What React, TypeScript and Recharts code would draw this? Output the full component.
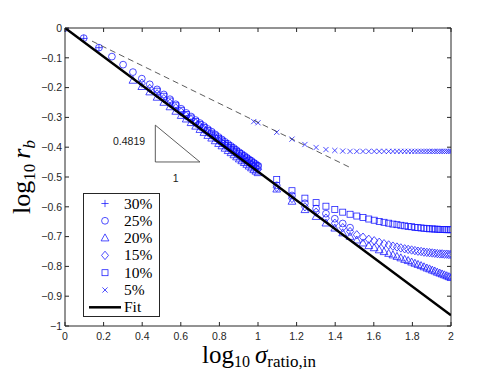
import React from 'react';
import {
  ComposedChart,
  Scatter,
  XAxis,
  YAxis,
  ReferenceArea,
  ReferenceDot,
  Legend,
  Label,
} from 'recharts';

// log10(sigma_ratio,in) sample positions: 1..10 step 0.25, then 12.5..100 step 2.5
const xLow = [
  0, 0.097, 0.176, 0.243, 0.301, 0.352, 0.398, 0.439, 0.477, 0.512, 0.544, 0.574, 0.602,
  0.628, 0.653, 0.677, 0.699, 0.72, 0.74, 0.76, 0.778, 0.796, 0.813, 0.829, 0.845, 0.86,
  0.875, 0.889, 0.903, 0.916, 0.929, 0.942, 0.954, 0.966, 0.978, 0.989, 1.0,
];
const xHigh = [
  1.097, 1.176, 1.243, 1.301, 1.352, 1.398, 1.439, 1.477, 1.512, 1.544, 1.574, 1.602,
  1.628, 1.653, 1.677, 1.699, 1.72, 1.74, 1.76, 1.778, 1.796, 1.813, 1.829, 1.845, 1.86,
  1.875, 1.889, 1.903, 1.916, 1.929, 1.942, 1.954, 1.966, 1.978, 1.989, 2.0,
];
const xAll = [...xLow, ...xHigh];

// log10 r_b per porosity; each list begins at index startXX of xAll
const start30 = 0;
const pct30 = [0, -0.035, -0.066];

const start25 = 0;
const pct25 = [
  0, -0.034, -0.066, -0.096, -0.123, -0.148, -0.17, -0.189, -0.206, -0.223, -0.239, -0.256,
  -0.271, -0.285, -0.297, -0.309, -0.319, -0.329, -0.339, -0.348, -0.357, -0.366, -0.374,
  -0.382, -0.389, -0.396, -0.403, -0.41, -0.417, -0.423, -0.429, -0.435, -0.441, -0.446,
  -0.452, -0.457, -0.462,
  -0.528, -0.562, -0.588, -0.606, -0.623, -0.64, -0.656, -0.67,
];

const start20 = 5;
const pct20 = [
  -0.176, -0.197, -0.215, -0.233, -0.25, -0.265, -0.28, -0.294, -0.306, -0.318, -0.33, -0.341,
  -0.351, -0.361, -0.37, -0.379, -0.388, -0.396, -0.404, -0.412, -0.419, -0.426, -0.433,
  -0.44, -0.446, -0.452, -0.458, -0.464, -0.47, -0.476, -0.481, -0.486,
  -0.541, -0.582, -0.61, -0.633, -0.655, -0.672, -0.688, -0.7, -0.712, -0.722, -0.731, -0.738,
  -0.745, -0.751, -0.757, -0.762, -0.767, -0.772, -0.777, -0.781, -0.786, -0.79, -0.794,
  -0.798, -0.802, -0.806, -0.809, -0.813, -0.816, -0.82, -0.823, -0.826, -0.829, -0.832,
  -0.835, -0.838,
];

const start15 = 6;
const pct15 = [
  -0.185, -0.203, -0.221, -0.237, -0.252, -0.268, -0.282, -0.295, -0.307, -0.319, -0.33,
  -0.34, -0.35, -0.359, -0.368, -0.377, -0.385, -0.393, -0.401, -0.408, -0.415, -0.422,
  -0.429, -0.435, -0.441, -0.447, -0.453, -0.458, -0.464, -0.469, -0.474,
  -0.535, -0.572, -0.6, -0.618, -0.638, -0.655, -0.67, -0.683, -0.694, -0.702, -0.709, -0.714,
  -0.719, -0.724, -0.728, -0.732, -0.735, -0.738, -0.741, -0.743, -0.745, -0.747, -0.749,
  -0.75, -0.752, -0.753, -0.754, -0.755, -0.756, -0.757, -0.758, -0.758, -0.759, -0.759,
  -0.76, -0.76,
];

const start10 = 8;
const pct10 = [
  -0.212, -0.229, -0.245, -0.261, -0.276, -0.29, -0.302, -0.314, -0.324, -0.334, -0.344,
  -0.353, -0.362, -0.371, -0.379, -0.387, -0.394, -0.401, -0.408, -0.415, -0.421, -0.427,
  -0.433, -0.439, -0.445, -0.45, -0.456, -0.461, -0.466,
  -0.508, -0.546, -0.571, -0.586, -0.598, -0.609, -0.618, -0.625, -0.631, -0.636, -0.641,
  -0.645, -0.649, -0.652, -0.655, -0.658, -0.66, -0.662, -0.664, -0.666, -0.667, -0.669,
  -0.67, -0.671, -0.672, -0.673, -0.674, -0.674, -0.675, -0.675, -0.676, -0.676, -0.676,
  -0.677, -0.677, -0.677,
];

const start5 = 34;
const pct5 = [
  -0.314, null, -0.318,
  -0.35, -0.373, -0.391, -0.401, -0.408, -0.411, -0.413, -0.414, -0.414, -0.414, -0.414,
  -0.414, -0.414, -0.414, -0.414, -0.414, -0.414, -0.414, -0.414, -0.414, -0.414, -0.414,
  -0.414, -0.414, -0.414, -0.414, -0.414, -0.414, -0.414, -0.414, -0.414, -0.414, -0.414,
  -0.414, -0.414, -0.414,
];

// fitted slope line, reference dashed line and slope triangle
const fitX = [0, 2];
const fitY = [0, -0.9638];
const dashX = [0.14, 1.48];
const dashY = [-0.044, -0.469];
const triX = [0.468, 0.468, 0.699, 0.468];
const triY = [-0.326, -0.4496, -0.4496, -0.326];
const slopeText = '0.4819';
const runText = '1';

const xTicks = [0, 0.2, 0.4, 0.6, 0.8, 1, 1.2, 1.4, 1.6, 1.8, 2];
const yTicks = [-1, -0.9, -0.8, -0.7, -0.6, -0.5, -0.4, -0.3, -0.2, -0.1, 0];
const legendLabels = ['30%', '25%', '20%', '15%', '10%', '5%', 'Fit'];

const series = (start: number, ys: (number | null)[]) =>
  ys
    .map((y, i) => ({ x: xAll[start + i], y }))
    .filter((p) => p.y !== null);
const pairs = (xs: number[], ys: number[]) => xs.map((x, i) => ({ x, y: ys[i] }));

const BLUE = '#1414ff';
const AX = '#262626';
const SERIF = "'Liberation Serif', 'DejaVu Serif', serif";
const SANS = "'Liberation Sans', Arial, sans-serif";
const PLOT_TOP = 28;
const PLOT_RIGHT = 451;
const mk = { fill: 'none', stroke: BLUE, strokeWidth: 0.75 };

const PlusMark = ({ cx, cy }: any) => (
  <path d={`M${cx - 3.6},${cy}H${cx + 3.6}M${cx},${cy - 3.6}V${cy + 3.6}`} {...mk} />
);
const CircleMark = ({ cx, cy }: any) => <circle cx={cx} cy={cy} r={3.4} {...mk} />;
const TriMark = ({ cx, cy }: any) => (
  <polygon
    points={`${cx},${cy - 4.2} ${cx - 3.9},${cy + 2.8} ${cx + 3.9},${cy + 2.8}`}
    {...mk}
  />
);
const DiamondMark = ({ cx, cy }: any) => (
  <polygon
    points={`${cx},${cy - 4.2} ${cx + 3.5},${cy} ${cx},${cy + 4.2} ${cx - 3.5},${cy}`}
    {...mk}
  />
);
const SquareMark = ({ cx, cy }: any) => (
  <rect x={cx - 3} y={cy - 3} width={6} height={6} {...mk} />
);
const CrossMark = ({ cx, cy }: any) => (
  <path
    d={`M${cx - 2.6},${cy - 2.6}L${cx + 2.6},${cy + 2.6}M${cx - 2.6},${cy + 2.6}L${cx + 2.6},${cy - 2.6}`}
    {...mk}
  />
);
const NoMark = () => <g />;

const markers = [PlusMark, CircleMark, TriMark, DiamondMark, SquareMark, CrossMark];

const XTick = ({ x, y, payload }: any) => (
  <g>
    <line x1={x} y1={y} x2={x} y2={y - 4} stroke={AX} />
    <line x1={x} y1={PLOT_TOP} x2={x} y2={PLOT_TOP + 4} stroke={AX} />
    <text x={x} y={y + 13.5} textAnchor="middle" fontFamily={SANS} fontSize={10.5} fill={AX}>
      {String(payload.value)}
    </text>
  </g>
);

const YTick = ({ x, y, payload }: any) => {
  const v = payload.value;
  const txt = v === 0 ? '0' : '\u2212' + String(Math.abs(v));
  return (
    <g>
      <line x1={x} y1={y} x2={x + 4} y2={y} stroke={AX} />
      <line x1={PLOT_RIGHT} y1={y} x2={PLOT_RIGHT - 4} y2={y} stroke={AX} />
      <text x={x - 3} y={y + 3.7} textAnchor="end" fontFamily={SANS} fontSize={10.5} fill={AX}>
        {txt}
      </text>
    </g>
  );
};

const XTitle = ({ viewBox }: any) => {
  const cx = viewBox.x + viewBox.width / 2 + 1;
  return (
    <text x={cx} y={363} textAnchor="middle" fontFamily={SERIF} fontSize={25} fill="#000">
      <tspan>log</tspan>
      <tspan fontSize={16} dy={4}>10</tspan>
      <tspan dx={5} dy={-4} fontStyle="italic">σ</tspan>
      <tspan fontSize={17} dy={4}>ratio,in</tspan>
    </text>
  );
};

const YTitle = ({ viewBox }: any) => {
  const cy = viewBox.y + viewBox.height / 2;
  const bx = 30;
  return (
    <text
      x={bx}
      y={cy}
      transform={`rotate(-90 ${bx} ${cy})`}
      textAnchor="middle"
      fontFamily={SERIF}
      fontSize={26}
      fill="#000"
    >
      <tspan>log</tspan>
      <tspan fontSize={17} dy={5}>10</tspan>
      <tspan dx={5} dy={-5} fontStyle="italic">r</tspan>
      <tspan fontSize={17} dy={5} fontStyle="italic">b</tspan>
    </text>
  );
};

const LegendBox = () => (
  <svg width={78} height={125} style={{ display: 'block' }}>
    <rect x={0.5} y={0.5} width={76} height={123} fill="#fff" stroke={AX} />
    {legendLabels.map((lab, i) => {
      const cy = 10.5 + i * 17.3;
      const M = markers[i];
      return (
        <g key={lab}>
          {M ? (
            <M cx={22} cy={cy} />
          ) : (
            <line x1={6} y1={cy} x2={38} y2={cy} stroke="#000" strokeWidth={2.5} />
          )}
          <text x={41} y={cy + 5} fontFamily={SERIF} fontSize={15.5} fill="#000">
            {lab}
          </text>
        </g>
      );
    })}
  </svg>
);

const labelStyle = { fontFamily: SANS, fontSize: 10.5, fill: '#1a1a1a' };

export default function App() {
  const groups = [
    series(start30, pct30),
    series(start25, pct25),
    series(start20, pct20),
    series(start15, pct15),
    series(start10, pct10),
    series(start5, pct5),
  ];
  return (
    <div style={{ position: 'absolute', left: 0, top: 0, background: '#fff' }}>
      <ComposedChart
        width={498}
        height={383}
        margin={{ top: 28, right: 47, bottom: 0, left: 0 }}
      >
        <XAxis
          dataKey="x"
          type="number"
          domain={[0, 2]}
          ticks={xTicks}
          interval={0}
          height={57}
          tickSize={0}
          tickMargin={0}
          axisLine={false}
          tick={(p: any) => <XTick {...p} />}
          allowDataOverflow
        >
          <Label content={(p: any) => <XTitle {...p} />} />
        </XAxis>
        <YAxis
          dataKey="y"
          type="number"
          domain={[-1, 0]}
          ticks={yTicks}
          interval={0}
          width={65}
          tickSize={0}
          tickMargin={0}
          axisLine={false}
          tick={(p: any) => <YTick {...p} />}
          allowDataOverflow
        >
          <Label content={(p: any) => <YTitle {...p} />} />
        </YAxis>
        <ReferenceArea x1={0} x2={2} y1={-1} y2={0} fill="none" fillOpacity={0} stroke={AX} strokeWidth={1} />
        {groups.map((pts, i) => (
          <Scatter
            key={legendLabels[i]}
            name={legendLabels[i]}
            data={pts}
            shape={markers[i]}
            isAnimationActive={false}
          />
        ))}
        <Scatter
          data={pairs(dashX, dashY)}
          shape={NoMark}
          line={{ stroke: '#333', strokeWidth: 0.8, strokeDasharray: '6 4' }}
          legendType="none"
          isAnimationActive={false}
        />
        <Scatter
          data={pairs(triX, triY)}
          shape={NoMark}
          line={{ stroke: '#333', strokeWidth: 0.8 }}
          legendType="none"
          isAnimationActive={false}
        />
        <Scatter
          name="Fit"
          data={pairs(fitX, fitY)}
          shape={NoMark}
          line={{ stroke: '#000', strokeWidth: 2.5 }}
          isAnimationActive={false}
        />
        <ReferenceDot
          x={0.332}
          y={-0.379}
          r={0}
          fill="none"
          stroke="none"
          label={{ value: slopeText, position: 'center', ...labelStyle }}
        />
        <ReferenceDot
          x={0.574}
          y={-0.504}
          r={0}
          fill="none"
          stroke="none"
          label={{ value: runText, position: 'center', ...labelStyle }}
        />
        <Legend
          layout="vertical"
          align="center"
          verticalAlign="middle"
          content={() => <LegendBox />}
          wrapperStyle={{ left: 83, top: 193, width: 78, height: 125 }}
        />
      </ComposedChart>
    </div>
  );
}
